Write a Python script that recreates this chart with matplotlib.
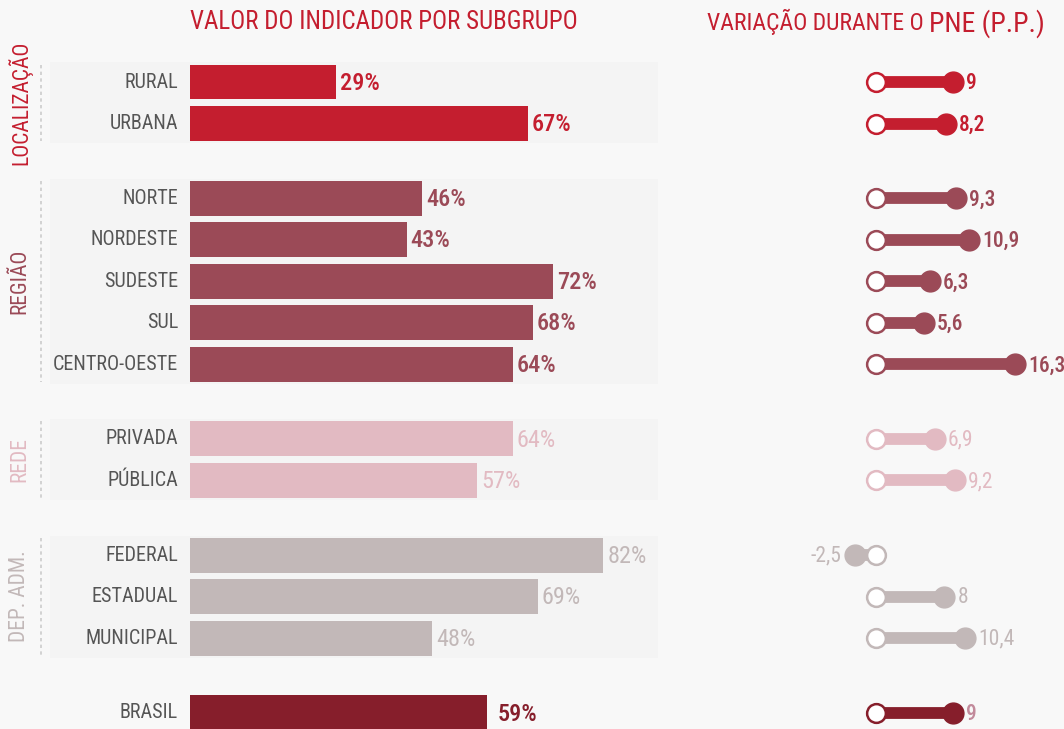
import matplotlib
matplotlib.use("Agg")
import matplotlib.pyplot as plt
from matplotlib import font_manager as fm
from matplotlib.patches import Rectangle

# ---------------- data ----------------
groups = ["LOCALIZAÇÃO", "REGIÃO", "REDE", "DEP. ADM.", ""]
group_rows = [
    ["RURAL", "URBANA"],
    ["NORTE", "NORDESTE", "SUDESTE", "SUL", "CENTRO-OESTE"],
    ["PRIVADA", "PÚBLICA"],
    ["FEDERAL", "ESTADUAL", "MUNICIPAL"],
    ["BRASIL"],
]
group_values = [
    [29, 67],
    [46, 43, 72, 68, 64],
    [64, 57],
    [82, 69, 48],
    [59],
]
group_change = [
    [9, 8.2],
    [9.3, 10.9, 6.3, 5.6, 16.3],
    [6.9, 9.2],
    [-2.5, 8, 10.4],
    [9],
]
group_colors = ["#C41E2F", "#9B4A57", "#E2BAC2", "#C2B8B8", "#861E2B"]
pct_colors = ["#C41E2F", "#9B4A57", "#E2BAC2", "#C2B8B8", "#861E2B"]
chg_label_colors = ["#C41E2F", "#9B4A57", "#E2BAC2", "#C2B8B8", "#C28A9B"]
emphasis = [True, True, False, False, True]

# ---------------- font ----------------
names = {f.name for f in fm.fontManager.ttflist}
cond = [f for f in fm.fontManager.ttflist if f.stretch in ("condensed", "semi-condensed", 'extra-condensed')]
family = None
for cand in ["Roboto Condensed", "Liberation Sans Narrow", "DejaVu Sans Condensed", "Open Sans Condensed"]:
    if cand in names:
        family = cand
        break
stretch = "normal"
if family is None:
    for cand in ["Roboto", "Open Sans", "DejaVu Sans", "Noto Sans"]:
        if any(f.name == cand for f in cond):
            family = cand
            stretch = "condensed"
            break
if family is None:
    family = "Roboto"
plt.rcParams["font.family"] = [family, "DejaVu Sans"]
plt.rcParams["font.stretch"] = stretch

BG = "#F8F8F8"
BOX = "#F4F4F4"
LABEL = "#555555"

W, H = 1064, 729
fig = plt.figure(figsize=(W / 100, H / 100), dpi=100, facecolor=BG)

# positions
gap = 0.8
positions = []
p = 0.0
for gi, rows in enumerate(group_rows):
    ps = []
    for r in rows:
        ps.append(p)
        p += 1
    positions.append(ps)
    p += gap

row_px = 41.5
top_px = 82 - 0.5 * row_px
ymax = (H - 82) / row_px
axh = (H - top_px) / H

# left bar axes: 0% at x=190px, 100% at x=694px
axL = fig.add_axes([190 / W, 0, (694 - 190) / W, axh])
axL.set_xlim(0, 100)
axL.set_ylim(ymax, -0.5)
axL.axis("off")

# right dumbbell axes: 0 at 876px, 8.6 px / unit
x0px, x1px = 820, 1064
upx = 8.55
axR = fig.add_axes([x0px / W, 0, (x1px - x0px) / W, axh])
axR.set_xlim((x0px - 876) / upx, (x1px - 876) / upx)
axR.set_ylim(ymax, -0.5)
axR.axis("off")

px_per_pct = (694 - 190) / 100.0
box_left = (50 - 190) / px_per_pct
box_right = (658 - 190) / px_per_pct

for gi, (g, rows) in enumerate(zip(groups, group_rows)):
    ps = positions[gi]
    col = group_colors[gi]
    wt = "medium" if emphasis[gi] else "normal"
    if g:
        axL.add_patch(Rectangle((box_left, ps[0] - 0.47), box_right - box_left,
                                ps[-1] - ps[0] + 0.94, facecolor=BOX, edgecolor="none",
                                zorder=0, clip_on=False))
        mid = (ps[0] + ps[-1]) / 2
        axL.text((20 - 190) / px_per_pct, mid, g, rotation=90, ha="center", va="center",
                 color=col, fontsize=15.5, clip_on=False)
        axL.plot([(41 - 190) / px_per_pct] * 2, [ps[0] - 0.42, ps[-1] + 0.42],
                 color="#CCCCCC", lw=1.2, ls=(0, (2, 2)), clip_on=False)
    vals = group_values[gi]
    axL.barh(ps, vals, height=0.84, color=col, zorder=2)
    for y, v, name in zip(ps, vals, rows):
        axL.text(-12 / px_per_pct, y, name, ha="right", va="center", color=LABEL,
                 fontsize=14.5, clip_on=False)
        off = 10 if gi == 4 else 4
        axL.text(v + off / px_per_pct, y + 0.03, f"{v}%", ha="left", va="center",
                 color=pct_colors[gi], fontsize=17.5, fontweight=wt, clip_on=False)
    for y, c in zip(ps, group_change[gi]):
        axR.plot([0, c], [y, y], color=col, lw=8.5, solid_capstyle="butt", zorder=2)
        axR.plot([c], [y], "o", ms=15, color=col, mec=col, zorder=3)
        axR.plot([0], [y], "o", ms=13.5, mfc="white", mec=col, mew=1.8, zorder=4)
        lab = f"{c:g}".replace(".", ",")
        if c >= 0:
            axR.text(c + 13 / upx, y + 0.03, lab, ha="left", va="center",
                     color=chg_label_colors[gi], fontsize=15.5, fontweight=wt)
        else:
            axR.text(c - 13 / upx, y + 0.03, lab, ha="right", va="center",
                     color=chg_label_colors[gi], fontsize=15.5, fontweight=wt)

# titles
fig.text(384 / W, 1 - 22 / H, "VALOR DO INDICADOR POR SUBGRUPO", ha="center", va="center",
         color="#C41E2F", fontsize=18)
t1 = fig.text(707 / W, 1 - 22 / H, "VARIAÇÃO DURANTE O ", ha="left", va="center",
              color="#C41E2F", fontsize=17)
fig.canvas.draw()
bb = t1.get_window_extent()
fig.text(bb.x1 / W, 1 - 22 / H - 0.002, "PNE (P.P.)", ha="left", va="center",
         color="#C41E2F", fontsize=20)

fig.savefig("out.png", dpi=100, facecolor=BG)
